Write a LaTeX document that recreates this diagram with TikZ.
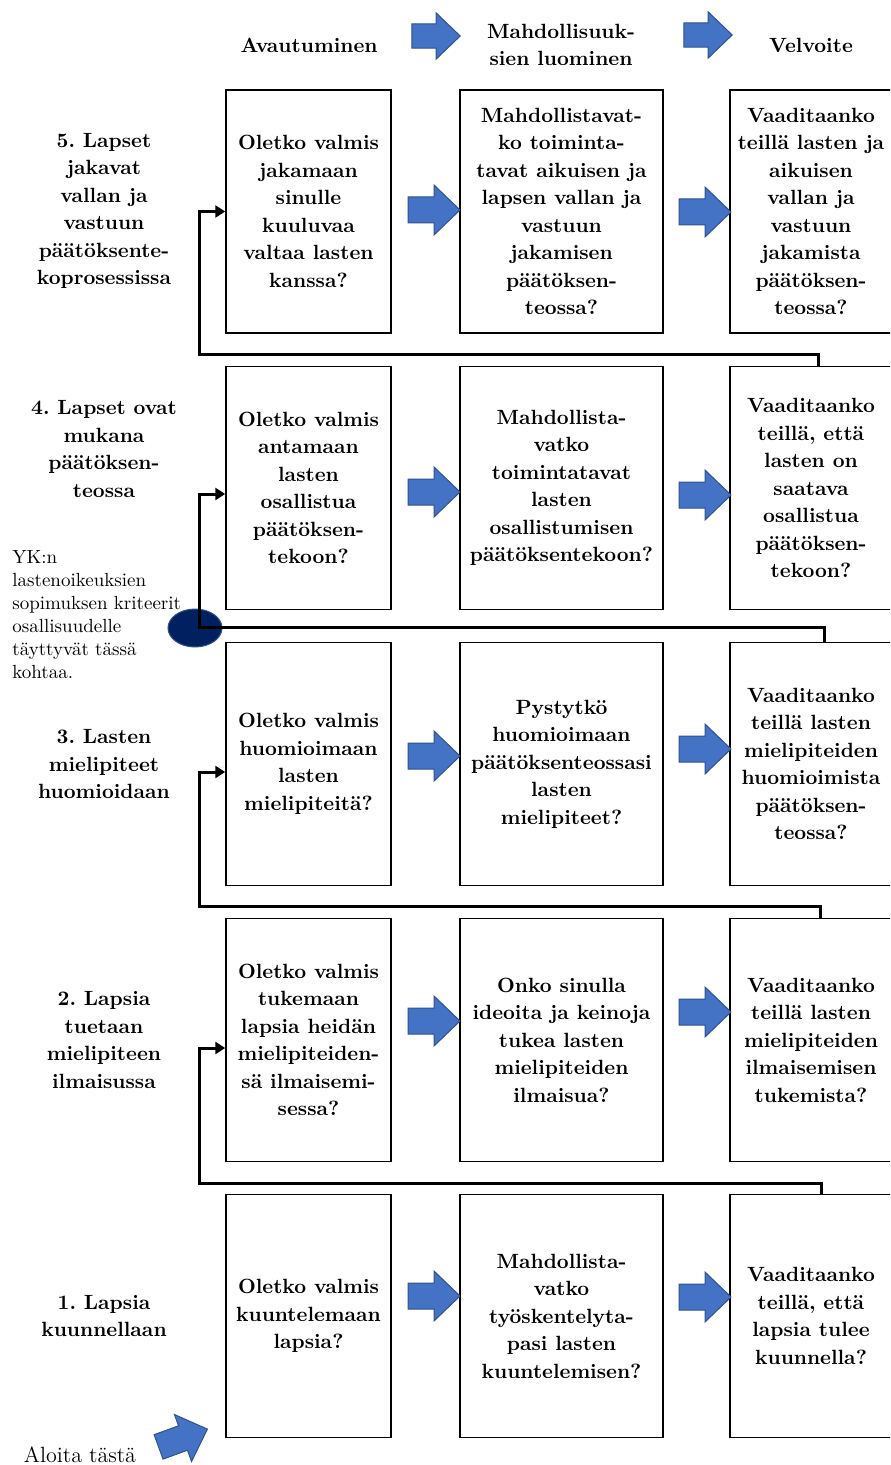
\documentclass[tikz,border=0pt]{standalone}
\usepackage{xcolor}
\usepackage{tikz}
\usetikzlibrary{positioning, shapes, calc, arrows.meta}
\definecolor{officeblue}{RGB}{68,114,196}
\definecolor{officeedge}{RGB}{47,82,143}
\definecolor{navyoval}{RGB}{0,32,96}
\frenchspacing

\newcommand{\boxfont}{\fontsize{10.3}{13.75}\selectfont\bfseries}

\tikzset{
  qbox/.style={draw, line width=0.75pt, minimum height=121.5pt, align=center, font=\boxfont, inner sep=1pt},
  openbox/.style={qbox, minimum width=82.5pt},
  possbox/.style={qbox, minimum width=101.5pt},
  dutybox/.style={qbox, minimum width=81pt},
  steplabel/.style={align=center, font=\boxfont},
  backline/.style={line width=1.5pt, -{Triangle[length=5pt,width=6pt]}},
  blockarr/.pic={\draw[fill=officeblue, draw=officeedge, line width=0.5pt] (-26,-13) -- (0,-13) -- (0,-25) -- (26,0) -- (0,25) -- (0,13) -- (-26,13) -- cycle;}
}

\begin{document}
\begin{tikzpicture}[x=0.5pt, y=-0.5pt]
\useasboundingbox (0,0) rectangle (890,1465);
\clip (0,0) rectangle (890,1465);

% headers
\node[steplabel] (head1) at (309,45) {Avautuminen};
\node[steplabel] (head2) at (561,45) {Mahdollisuuk-\\sien luominen};
\node[steplabel] (head3) at (811,45) {Velvoite};
\pic[scale=0.93] at (436,36) {blockarr};
\pic[scale=0.93] at (708,35) {blockarr};

% row 5
\node[steplabel] (step5) at (104,211) {5. Lapset\\jakavat\\vallan ja\\vastuun\\päätöksente-\\koprosessissa};
\node[openbox] (open5) at (308.5,211.5) {Oletko valmis\\jakamaan\\sinulle\\kuuluvaa\\valtaa lasten\\kanssa?};
\node[possbox] (poss5) at (561.5,211.5) {Mahdollistavat-\\ko toiminta-\\tavat aikuisen ja\\lapsen vallan ja\\vastuun\\jakamisen\\päätöksen-\\teossa?};
\node[dutybox] (duty5) at (811,211.5) {Vaaditaanko\\teillä lasten ja\\aikuisen\\vallan ja\\vastuun\\jakamista\\päätöksen-\\teossa?};
\pic at (434,210) {blockarr};
\pic at (705,212) {blockarr};

% row 4
\node[steplabel] (step4) at (104,449) {4. Lapset ovat\\mukana\\päätöksen-\\teossa};
\node[openbox] (open4) at (308.5,488) {Oletko valmis\\antamaan\\lasten\\osallistua\\päätöksen-\\tekoon?};
\node[possbox] (poss4) at (561.5,488) {Mahdollista-\\vatko\\toimintatavat\\lasten\\osallistumisen\\päätöksentekoon?};
\node[dutybox] (duty4) at (811,488) {Vaaditaanko\\teillä, että\\lasten on\\saatava\\osallistua\\päätöksen-\\tekoon?};
\pic at (434,492) {blockarr};
\pic at (705,495) {blockarr};

% row 3
\node[steplabel] (step3) at (104,764) {3. Lasten\\mielipiteet\\huomioidaan};
\node[openbox] (open3) at (308.5,764) {Oletko valmis\\huomioimaan\\lasten\\mielipiteitä?};
\node[possbox] (poss3) at (561.5,764) {Pystytkö\\huomioimaan\\päätöksenteossasi\\lasten\\mielipiteet?};
\node[dutybox] (duty3) at (811,764) {Vaaditaanko\\teillä lasten\\mielipiteiden\\huomioimista\\päätöksen-\\teossa?};
\pic at (434,756) {blockarr};
\pic at (705,749) {blockarr};

% row 2
\node[steplabel] (step2) at (104,1040) {2. Lapsia\\tuetaan\\mielipiteen\\ilmaisussa};
\node[openbox] (open2) at (308.5,1040) {Oletko valmis\\tukemaan\\lapsia heidän\\mielipiteiden-\\sä ilmaisemi-\\sessa?};
\node[possbox] (poss2) at (561.5,1040) {Onko sinulla\\ideoita ja keinoja\\tukea lasten\\mielipiteiden\\ilmaisua?};
\node[dutybox] (duty2) at (811,1040) {Vaaditaanko\\teillä lasten\\mielipiteiden\\ilmaisemisen\\tukemista?};
\pic at (434,1021) {blockarr};
\pic at (705,1012) {blockarr};

% row 1
\node[steplabel] (step1) at (104,1316) {1. Lapsia\\kuunnellaan};
\node[openbox] (open1) at (308.5,1316) {Oletko valmis\\kuuntelemaan\\lapsia?};
\node[possbox] (poss1) at (561.5,1316) {Mahdollista-\\vatko\\työskentelyta-\\pasi lasten\\kuuntelemisen?};
\node[dutybox] (duty1) at (811,1316) {Vaaditaanko\\teillä, että\\lapsia tulee\\kuunnella?};
\pic at (434,1296) {blockarr};
\pic at (705,1297) {blockarr};

% start
\node[font=\fontsize{11}{12}\selectfont] (start) at (80,1455) {Aloita tästä};
\pic[rotate=20] at (183,1438) {blockarr};

% note and marker
\node[ellipse, fill=navyoval, draw=officeedge, line width=0.5pt, minimum width=27pt, minimum height=19pt, inner sep=0pt] (mark) at (195,628) {};
\node[anchor=north west, align=left, inner sep=0pt, font=\fontsize{9.5}{11.5}\selectfont] (note) at (12,550) {YK:n\\lastenoikeuksien\\sopimuksen kriteerit\\osallisuudelle\\täyttyvät tässä\\kohtaa.};

% back connectors
\coordinate (turn1) at (199,1183);
\coordinate (turn2) at (199,906);
\coordinate (turn3) at (199,627);
\coordinate (turn4) at (199,354);
\draw[backline] ([xshift=5pt]duty1.north) |- (turn1) |- ([yshift=-4pt]open2.west);
\draw[backline] ([xshift=4.5pt]duty2.north) |- (turn2) |- ([yshift=-4pt]open3.west);
\draw[backline] ([xshift=6.5pt]duty3.north) |- (turn3) |- ([yshift=-3pt]open4.west);
\draw[backline] ([xshift=3.5pt]duty4.north) |- (turn4) |- (open5.west);

\end{tikzpicture}
\end{document}
